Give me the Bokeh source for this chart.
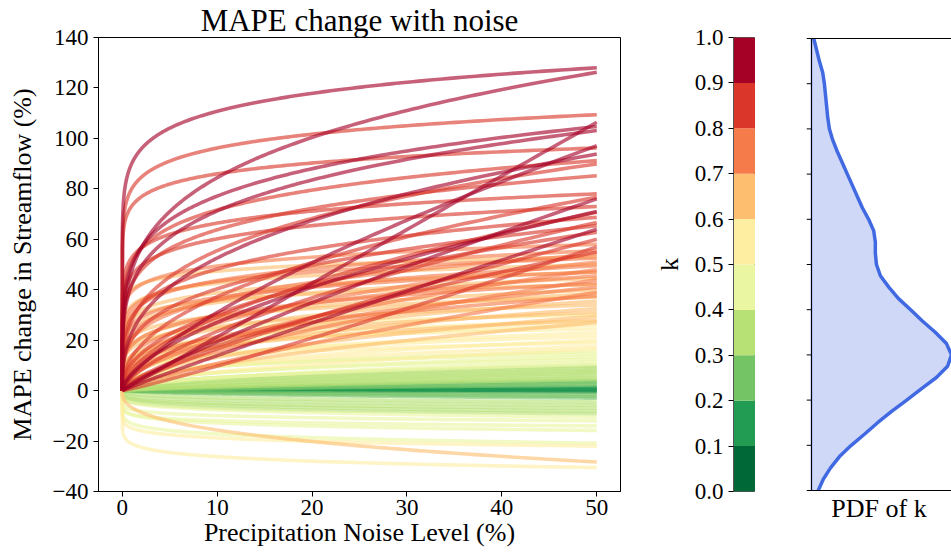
import numpy as np
from bokeh.plotting import figure
from bokeh.layouts import row
from bokeh.models import FixedTicker, Range1d, Title, NumeralTickFormatter
from bokeh.embed import file_html
from bokeh.resources import INLINE

FONT = "Liberation Serif"

# ---------------- data ----------------
# each curve: k (colour value), MAPE change at 50 % noise, curvature exponent of the curve
curve_k = [
    0.97, 0.96, 0.99, 0.95, 0.94, 0.98, 0.93, 0.97, 0.92, 0.96,
    0.85, 0.84, 0.88, 0.87, 0.86, 0.83, 0.82, 0.84, 0.89, 0.81, 0.86, 0.82, 0.85, 0.88, 0.83, 0.81,
    0.76, 0.74, 0.78, 0.72, 0.77, 0.73, 0.79, 0.71, 0.75, 0.78, 0.72, 0.76, 0.74, 0.71,
    0.65, 0.68, 0.62, 0.66, 0.61, 0.69, 0.64, 0.67, 0.63, 0.60, 0.66, 0.62, 0.68, 0.61, 0.65, 0.64,
    0.55, 0.58, 0.52, 0.56, 0.59, 0.51, 0.57, 0.53, 0.55, 0.54, 0.56, 0.52,
    0.45, 0.48, 0.42, 0.46, 0.44, 0.41, 0.47, 0.43, 0.46, 0.49, 0.41,
    0.35, 0.38, 0.32, 0.36, 0.33, 0.37, 0.31, 0.34, 0.39, 0.35, 0.33, 0.37, 0.31,
    0.25, 0.28, 0.22, 0.26, 0.24, 0.27, 0.21,
    0.15, 0.18, 0.12, 0.16,
    0.05, 0.08,
]
curve_end = [
    128.0, 126.2, 106.4, 104.7, 103.1, 97.1, 93.8, 76.0, 64.0, 71.0,
    109.4, 96.2, 91.2, 89.9, 85.2, 78.0, 76.7, 73.0, 70.7, 68.7, 66.7, 65.4, 62.8, 60.0, 57.0, 55.0,
    58.0, 55.5, 54.0, 52.5, 51.0, 49.5, 48.0, 47.0, 45.5, 44.0, 42.5, 41.0, 39.0, 37.5,
    53.0, 50.0, 47.0, 44.5, 42.0, 40.0, 38.5, 37.0, 35.5, 34.0, 32.5, 31.0, 29.5, 28.0, 27.0, -28.3,
    30.0, 27.5, 26.0, 24.5, 23.0, 21.5, 20.0, 19.0, 17.5, 16.5, -30.5, -22.0,
    15.5, 14.5, 13.5, 12.5, 11.5, 10.5, -12.0, -14.0, -15.8, -20.8, -10.5,
    9.8, 9.0, 8.2, 7.5, 6.8, 6.0, 5.2, 4.5, -4.5, -5.8, -7.0, -8.2, -9.2,
    4.0, 3.4, 2.8, 2.2, -1.5, -2.3, -3.0,
    1.5, 1.0, 0.4, -0.6,
    0.5, -0.1,
]
curve_exp = [
    0.09, 0.25, 1.00, 0.19, 0.23, 0.71, 0.36, 0.85, 0.95, 0.60,
    0.08, 0.07, 0.15, 0.30, 0.18, 0.10, 0.45, 0.12, 0.55, 0.22, 0.65, 0.30, 0.45, 0.80, 1.10, 0.70,
    0.10, 0.15, 0.25, 0.12, 0.40, 0.20, 0.55, 0.15, 0.30, 0.65, 0.22, 0.45, 0.80, 0.35,
    0.07, 0.10, 0.12, 0.15, 0.10, 0.20, 0.28, 0.14, 0.35, 0.18, 0.40, 0.25, 0.50, 0.30, 0.60, 0.37,
    0.12, 0.18, 0.22, 0.15, 0.30, 0.25, 0.40, 0.20, 0.35, 0.50, 0.095, 0.10,
    0.30, 0.25, 0.40, 0.35, 0.50, 0.45, 0.12, 0.10, 0.13, 0.12, 0.20,
    0.40, 0.50, 0.45, 0.60, 0.55, 0.70, 0.65, 0.75, 0.30, 0.25, 0.20, 0.22, 0.18,
    0.75, 0.80, 0.85, 0.80, 0.60, 0.55, 0.50,
    0.85, 0.90, 0.90, 0.80,
    1.00, 1.00,
]
noise_max = 50.0

k_bins = [0.0, 0.1, 0.2, 0.3, 0.4, 0.5, 0.6, 0.7, 0.8, 0.9, 1.0]
bin_colors = ["#006837", "#229c52", "#74c365", "#b7e075", "#eaf6a2",
              "#feeea2", "#fdbf6f", "#f67b4a", "#da372a", "#a50026"]

pdf_k = [0.000, 0.025, 0.050, 0.075, 0.100, 0.125, 0.150, 0.175, 0.200, 0.225,
         0.250, 0.275, 0.300, 0.325, 0.350, 0.375, 0.400, 0.425, 0.450, 0.475,
         0.500, 0.525, 0.550, 0.575, 0.600, 0.625, 0.650, 0.675, 0.700, 0.725,
         0.750, 0.775, 0.800, 0.825, 0.850, 0.875, 0.900, 0.925, 0.950, 0.975, 1.000]
pdf_density = [0.12, 0.21, 0.34, 0.50, 0.71, 0.95, 1.18, 1.43, 1.70, 1.96,
               2.23, 2.43, 2.50, 2.41, 2.21, 1.98, 1.77, 1.55, 1.38, 1.23,
               1.16, 1.14, 1.14, 1.11, 1.02, 0.91, 0.82, 0.73, 0.64, 0.55,
               0.46, 0.38, 0.32, 0.29, 0.27, 0.25, 0.23, 0.20, 0.14, 0.09, 0.04]

x_ticks = [0, 10, 20, 30, 40, 50]
y_ticks = [-40, -20, 0, 20, 40, 60, 80, 100, 120, 140]
k_ticks = [0.0, 0.1, 0.2, 0.3, 0.4, 0.5, 0.6, 0.7, 0.8, 0.9, 1.0]

TICK = "23px"
LAB = "26px"


def style_axis(ax):
    ax.axis_line_color = "black"
    ax.axis_line_width = 1
    ax.major_tick_line_color = "black"
    ax.major_tick_out = 5
    ax.major_tick_in = 0
    ax.minor_tick_out = 0
    ax.minor_tick_in = 0
    ax.major_label_text_font = FONT
    ax.major_label_text_font_size = TICK
    ax.major_label_text_color = "black"
    ax.major_label_standoff = 5
    ax.axis_label_text_font = FONT
    ax.axis_label_text_font_size = LAB
    ax.axis_label_text_font_style = "normal"
    ax.axis_label_text_color = "black"


# ---------------- main panel ----------------
p1 = figure(width=630, height=556, output_backend="svg", toolbar_location=None,
            x_range=Range1d(-2.5, 52.5), y_range=Range1d(-40, 140),
            min_border_left=98, min_border_right=10, min_border_top=37, min_border_bottom=65)
p1.grid.visible = False
p1.outline_line_color = "black"
p1.outline_line_alpha = 1
p1.outline_line_width = 1
for ax in (p1.xaxis[0], p1.yaxis[0]):
    style_axis(ax)
p1.xaxis.ticker = FixedTicker(ticks=x_ticks)
p1.yaxis.ticker = FixedTicker(ticks=y_ticks)
p1.yaxis.major_label_overrides = {-40: "\u221240", -20: "\u221220"}
p1.xaxis.axis_label = "Precipitation Noise Level (%)"
p1.xaxis.major_label_standoff = 3
p1.xaxis.axis_label_standoff = 0
p1.yaxis.axis_label = "MAPE change in Streamflow (%)"
p1.yaxis.axis_label_standoff = 13
p1.title.text = "MAPE change with noise"
p1.title.align = "center"
p1.title.text_font = FONT
p1.title.text_font_size = "31px"
p1.title.text_font_style = "normal"
p1.title.text_color = "black"
p1.title.standoff = 0

xgrid = np.concatenate([[0.0], np.geomspace(0.02, noise_max, 400)])
order = np.argsort(curve_k, kind="stable")
xs, ys, cols = [], [], []
for i in order:
    xs.append(xgrid)
    ys.append(curve_end[i] * (xgrid / noise_max) ** curve_exp[i])
    cols.append(bin_colors[min(int(curve_k[i] * 10), 9)])
p1.multi_line(xs=xs, ys=ys, line_color=cols, line_width=3.6, line_alpha=0.62)

# ---------------- colour bar ----------------
p2 = figure(width=125, height=556, output_backend="svg", toolbar_location=None,
            x_range=Range1d(0, 1), y_range=Range1d(0, 1), x_axis_location=None,
            min_border_left=103, min_border_right=0, min_border_top=37, min_border_bottom=65)
p2.grid.visible = False
p2.quad(left=0, right=1, bottom=k_bins[:-1], top=k_bins[1:], fill_color=bin_colors,
        line_color=None)
p2.outline_line_color = "#555555"
p2.outline_line_alpha = 1
p2.outline_line_width = 1
style_axis(p2.yaxis[0])
p2.yaxis.axis_line_color = "#555555"
p2.yaxis.ticker = FixedTicker(ticks=k_ticks)
p2.yaxis.formatter = NumeralTickFormatter(format="0.0")
p2.yaxis.axis_label = "k"
p2.yaxis.axis_label_standoff = 8

# ---------------- PDF panel ----------------
tick_len = 5 * 2.5 / 140.0
p3 = figure(width=196, height=556, output_backend="svg", toolbar_location=None,
            x_range=Range1d(-tick_len, 2.5), y_range=Range1d(-1 / 454.0, 1 + 1 / 454.0),
            x_axis_location=None, y_axis_location=None,
            min_border_left=51, min_border_right=0, min_border_top=36, min_border_bottom=64)
p3.grid.visible = False
p3.outline_line_color = None
p3.harea(y=pdf_k, x1=[0.0] * len(pdf_k), x2=pdf_density, fill_color="#4169e1",
         fill_alpha=0.25)
p3.line(x=[0, 0], y=[0, 1], line_color="#4169e1", line_width=1.5)
p3.line(x=pdf_density, y=pdf_k, line_color="#4169e1", line_width=3.5)
# spines and tick marks
p3.segment(x0=[0, 0, 0], y0=[0, 0, 1], x1=[0, 2.6, 2.6], y1=[1, 0, 1],
           line_color="black", line_width=1)
p3.segment(x0=[-tick_len] * len(k_ticks), y0=k_ticks, x1=[0] * len(k_ticks), y1=k_ticks,
           line_color="black", line_width=1)
p3.add_layout(Title(text="PDF of k", align="center", offset=6, text_font=FONT,
                    text_font_size=LAB, text_font_style="normal", text_color="black",
                    standoff=0), "below")

layout = row(p1, p2, p3)
open("out.html", "w").write(file_html(layout, INLINE))
